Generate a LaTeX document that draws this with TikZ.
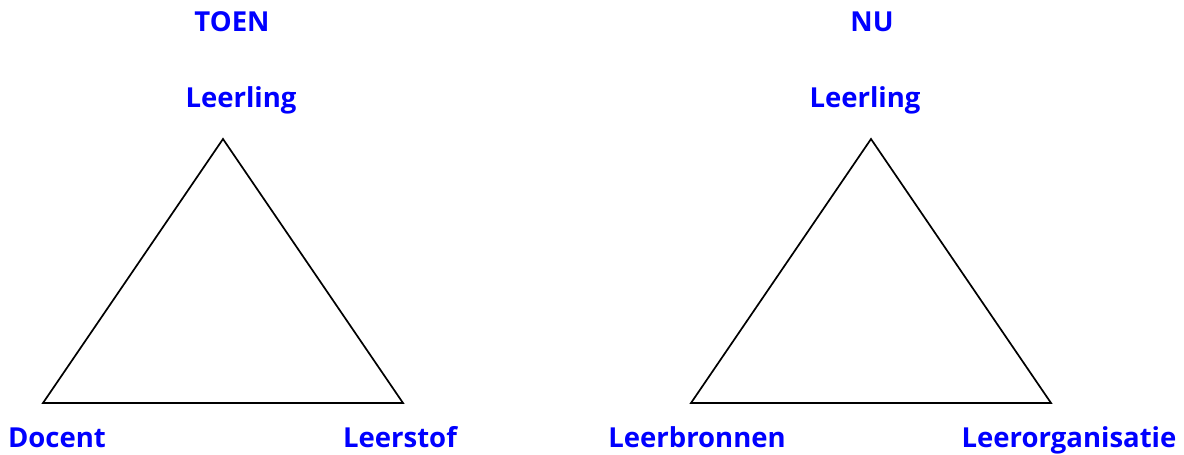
\documentclass[tikz,border=0pt]{standalone}
\usepackage{fontspec}
\setmainfont{Open Sans}
\tikzset{
  lbl/.style={text=blue, font=\fontsize{27.5}{30}\selectfont\bfseries, inner sep=0pt, anchor=base},
  tri/.style={draw=black, line width=1.7pt, line join=miter}
}
\begin{document}
\begin{tikzpicture}[x=1pt,y=-1pt]
\useasboundingbox (0,0) rectangle (1184,455);
% left
\coordinate (a1) at (223,139);
\coordinate (b1) at (43,403);
\coordinate (c1) at (403,403);
\draw[tri] (a1) -- (b1) -- (c1) -- cycle;
\node[lbl] (toen) at (232,31) {TOEN};
\node[lbl] (l1) at (241,107) {Leerling};
\node[lbl] (doc) at (57,447) {Docent};
\node[lbl] (stof) at (400,447) {Leerstof};
% right
\coordinate (a2) at (871,139);
\coordinate (b2) at (691,403);
\coordinate (c2) at (1051,403);
\draw[tri] (a2) -- (b2) -- (c2) -- cycle;
\node[lbl] (nu) at (872,31) {NU};
\node[lbl] (l2) at (865,107) {Leerling};
\node[lbl] (bron) at (697,447) {Leerbronnen};
\node[lbl] (org) at (1069,447) {Leerorganisatie};
\end{tikzpicture}
\end{document}
